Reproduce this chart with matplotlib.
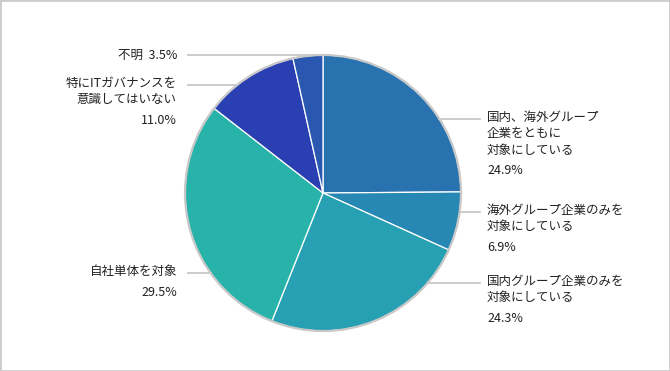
import numpy as np
import matplotlib.pyplot as plt
from matplotlib.patches import Circle, Rectangle

plt.rcParams['font.family'] = ['Noto Sans CJK JP', 'DejaVu Sans']

# data (clockwise from 12 o'clock)
names = ["国内、海外グループ\n企業をともに\n対象にしている",
         "海外グループ企業のみを\n対象にしている",
         "国内グループ企業のみを\n対象にしている",
         "自社単体を対象",
         "特にITガバナンスを\n意識してはいない",
         "不明"]
values = [24.9, 6.9, 24.3, 29.5, 11.0, 3.5]
colors = ["#2872b0", "#2888b4", "#27a0b4", "#27b3aa", "#2a40b2", "#2a57b0"]

# label layout (pixel rows of first text line, side)
label_y = [119, 212, 283, 273, 85, 55]
side = ['r', 'r', 'r', 'l', 'l', 'l']

W, H = 670, 371
cx, cy, r = 323, 193, 138

fig = plt.figure(figsize=(W / 100, H / 100), dpi=100)
ax = fig.add_axes([0, 0, 1, 1])
ax.pie(values, colors=colors, startangle=90, counterclock=False,
       center=(cx, H - cy), radius=r,
       wedgeprops=dict(edgecolor='white', linewidth=0.9))
ax.add_patch(Circle((cx, H - cy), r, fill=False, edgecolor='#c8c8c8', lw=1.6))
ax.set_xlim(0, W)
ax.set_ylim(0, H)
ax.set_aspect('auto')
ax.axis('off')

line_h = 16.5
for name, v, y, s in zip(names, values, label_y, side):
    dy = y - cy
    edge = np.sqrt(max(r * r - dy * dy, 0))
    nlines = name.count('\n') + 1
    if s == 'r':
        ax.plot([cx + edge, 480], [H - y, H - y], color='#c8c8c8', lw=1.3)
        ax.text(487, H - y + 8, name, ha='left', va='top', fontsize=9,
                linespacing=1.33, color='#222222')
        ax.text(487, H - (y + (nlines - 1) * line_h + 19), f"{v:.1f}%",
                ha='left', va='center', fontsize=9, color='#222222')
    else:
        ax.plot([188, cx - edge], [H - y, H - y], color='#c8c8c8', lw=1.3)
        if nlines == 1 and v < 5:
            ax.text(177, H - y, f"{name}  {v:.1f}%", ha='right', va='center',
                    fontsize=9, color='#222222')
        else:
            ax.text(177, H - y + 8, name, ha='right', va='top', fontsize=9,
                    linespacing=1.33, color='#222222', multialignment='right')
            ax.text(177, H - (y + (nlines - 1) * line_h + 19), f"{v:.1f}%",
                    ha='right', va='center', fontsize=9, color='#222222')

fig.patches.append(Rectangle((0, 0), 1, 1, transform=fig.transFigure,
                             fill=False, edgecolor='#cccccc', lw=2))

fig.savefig('out.png', dpi=100)
